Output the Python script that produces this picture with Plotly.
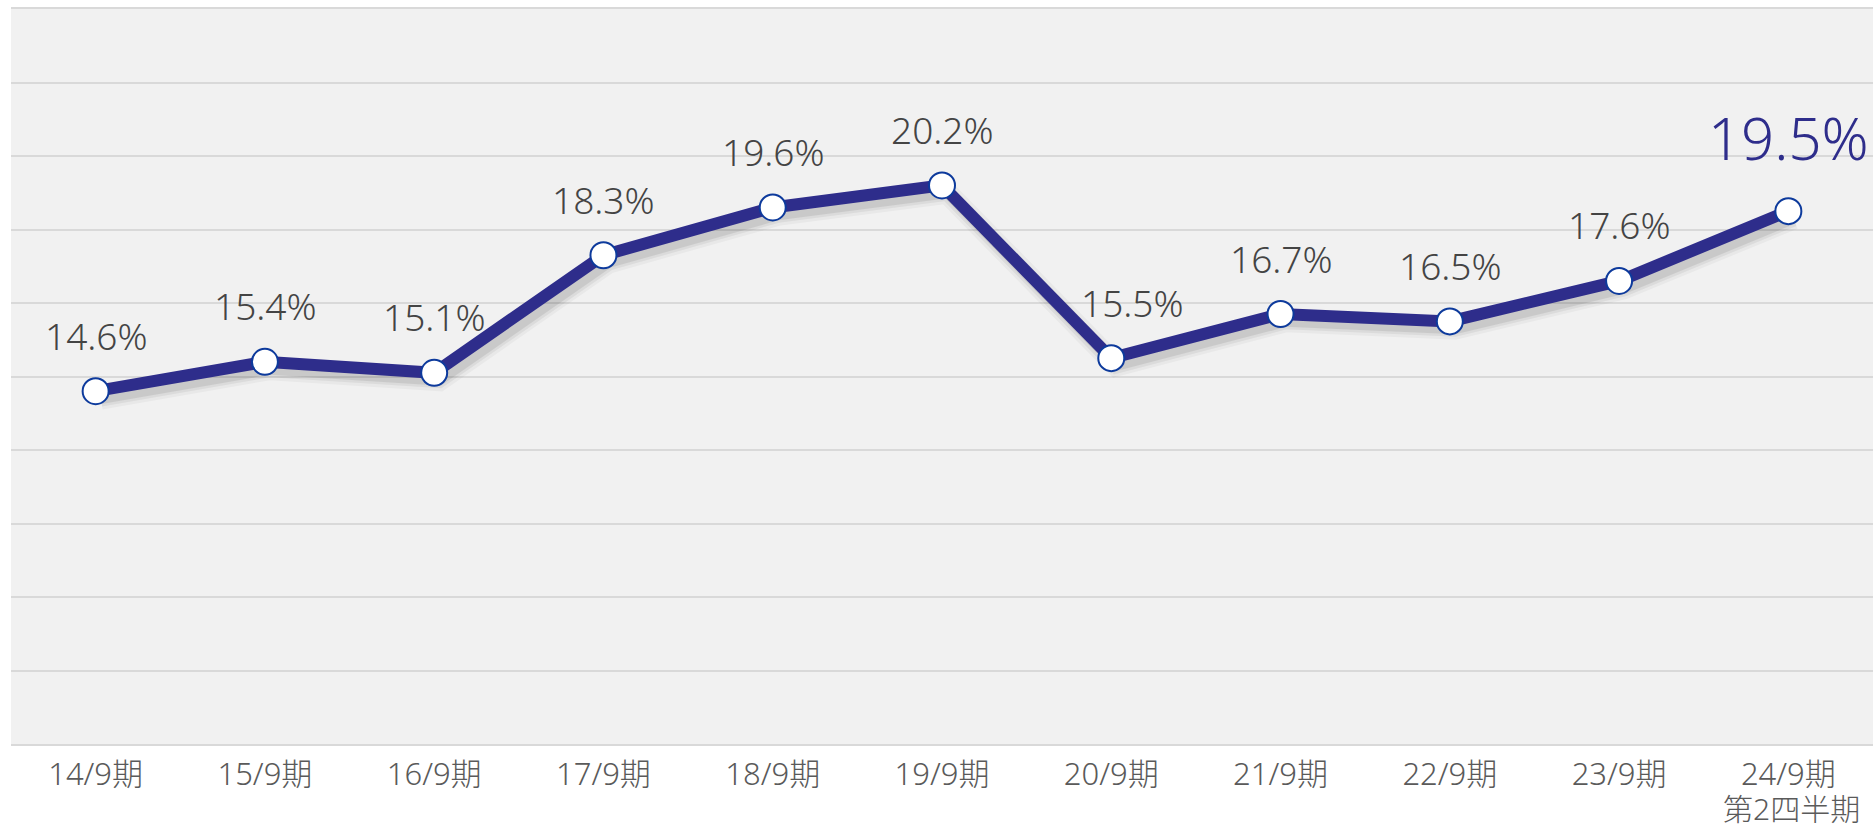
import plotly.graph_objects as go

categories = ["14/9期", "15/9期", "16/9期", "17/9期", "18/9期", "19/9期",
              "20/9期", "21/9期", "22/9期", "23/9期", "24/9期"]
last_subtitle = "第2四半期"
values = [14.6, 15.4, 15.1, 18.3, 19.6, 20.2, 15.5, 16.7, 16.5, 17.6, 19.5]
label_xshift = [0, 0, 0, 0, 0, 0, 21, 0, 0, 0, 0]

LINE = "#2e2d8b"
FONT = "Noto Sans, Noto Sans CJK JP, sans-serif"
TICK_COLOR = "#5a5a5a"
x_idx = list(range(len(categories)))
n = len(categories)

fig = go.Figure()

# soft shadow: same data on base axes whose range is shifted a little
for w, a in [(22, 0.035), (16, 0.055), (11, 0.08)]:
    fig.add_trace(go.Scatter(
        x=x_idx, y=values, mode="lines", xaxis="x", yaxis="y",
        line=dict(color=f"rgba(0,0,0,{a})", width=w), hoverinfo="skip",
        showlegend=False))

# main line on overlay axes with the true range
fig.add_trace(go.Scatter(
    x=x_idx, y=values, mode="lines+markers", xaxis="x2", yaxis="y2",
    line=dict(color=LINE, width=12),
    marker=dict(size=26, color="white", line=dict(color="#0d3a9c", width=2)),
    showlegend=False, cliponaxis=False))

annotations = []
for i, (v, xs) in enumerate(zip(values, label_xshift)):
    last = i == n - 1
    annotations.append(dict(
        x=i, y=v, xref="x2", yref="y2", text=f"{v}%", showarrow=False,
        xanchor="center", yanchor="middle",
        xshift=xs, yshift=74 if last else 56,
        font=dict(family=FONT, size=58 if last else 37, weight=300,
                  color=LINE if last else "#444444")))

# second line of the last category label
annotations.append(dict(
    x=n - 1, y=0, xref="x2", yref="paper", text=last_subtitle,
    showarrow=False, xanchor="center", yanchor="bottom", yshift=-82, xshift=3,
    height=32, valign="middle",
    font=dict(family=FONT, size=30, weight=300, color=TICK_COLOR)))

fig.update_layout(
    width=1873, height=826,
    margin=dict(l=11, r=0, t=9, b=82, autoexpand=False),
    paper_bgcolor="white", plot_bgcolor="#f1f1f1",
    font=dict(family=FONT),
    annotations=annotations,
    xaxis=dict(
        range=[-0.5 - 0.03, n - 0.5 - 0.03], automargin=False,
        showgrid=False, zeroline=False, showline=True, mirror=True,
        linecolor="#d9d9d9", linewidth=2, ticks="", showticklabels=False),
    yaxis=dict(
        range=[5 + 0.2, 25 + 0.2], automargin=False, showgrid=False,
        showticklabels=False, zeroline=False, showline=False, ticks=""),
    xaxis2=dict(
        range=[-0.5, n - 0.5], overlaying="x", automargin=False,
        tickmode="array", tickvals=x_idx, ticktext=categories,
        tickfont=dict(family=FONT, size=31, color=TICK_COLOR, weight=300),
        ticklabelstandoff=9,
        showgrid=False, zeroline=False, showline=False, ticks=""),
    yaxis2=dict(
        range=[5, 25], tick0=5, dtick=2, overlaying="y", automargin=False,
        showticklabels=False, gridcolor="#d9d9d9", gridwidth=2,
        zeroline=False, showline=False, ticks=""),
)

fig.write_html("out.html", config={"displayModeBar": False},
               post_script="document.body.style.margin='0';")
